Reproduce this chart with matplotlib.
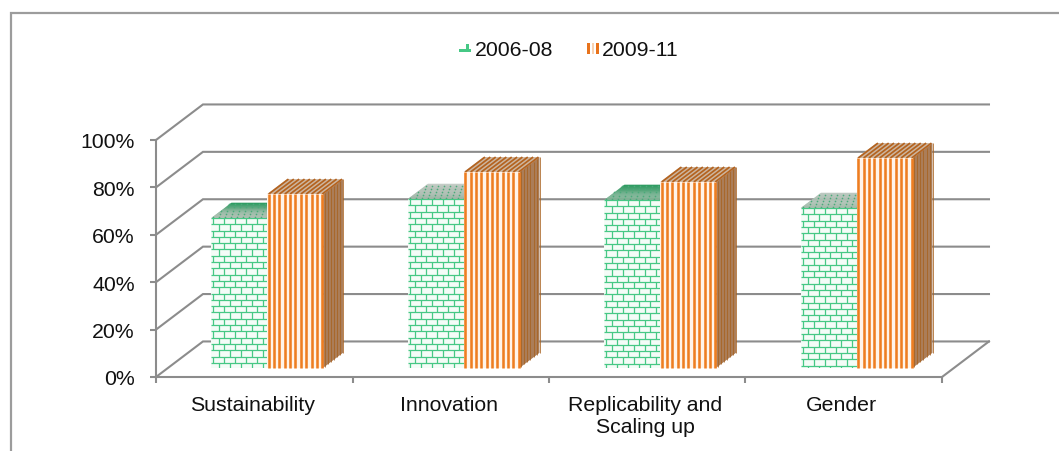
import numpy as np
import matplotlib
matplotlib.use('Agg')
import matplotlib.pyplot as plt
from matplotlib.collections import LineCollection
from matplotlib.colors import to_rgb
from matplotlib.lines import Line2D
from matplotlib.patches import Polygon, Rectangle
from matplotlib.ticker import PercentFormatter

plt.rcParams['font.family'] = ['Liberation Sans', 'DejaVu Sans']
plt.rcParams['font.size'] = 15.3

categories = ['Sustainability', 'Innovation', 'Replicability and\nScaling up', 'Gender']
series_names = ['2006-08', '2009-11']
values_0608 = [63.2, 71.2, 70.8, 67.4]
values_0911 = [73.3, 82.6, 78.4, 88.5]
y_ticks = [0, 20, 40, 60, 80, 100]

# how the green tops shade from front to back
top_front = ['#a9bcae', '#9fb5a6', '#7fb295', '#a3bcac']
top_back = ['#2f9c62', '#c4ccc6', '#2f9c62', '#bcc8c0']

GREY = '#8c8c8c'
GREEN = '#46c885'
ORANGE = '#ee7d20'
BROWN = '#ab7d58'
BROWN_DARK = '#a8621f'

# oblique projection: one unit of depth moves this far in data units
DEPTH_X = 0.239
DEPTH_Y = 15.0
BAR_WIDTH = 0.285
GROUP_START = 0.219
BAR_D0 = 0.26
BAR_D1 = 0.68
PX = 1 / 196.5  # one pixel on the x scale
PY = 1 / 2.37   # one pixel on the y scale


def proj(x, y, d=0.0):
    return x + d * DEPTH_X, y + d * DEPTH_Y


def face(ax, pts, color, z):
    p = Polygon([proj(*q) for q in pts], closed=True, facecolor=color,
                edgecolor='none', clip_on=False, zorder=z)
    ax.add_patch(p)
    return p


def lines(ax, segs, color, lw, z, clip=None):
    lc = LineCollection([[proj(*a), proj(*b)] for a, b in segs], colors=color,
                        linewidths=lw, zorder=z, clip_on=clip is not None,
                        capstyle='butt')
    ax.add_collection(lc, autolim=False)
    if clip is not None:
        lc.set_clip_path(clip)
    return lc


def brick_front(ax, x0, v, z):
    rect = face(ax, [(x0, 0, BAR_D0), (x0 + BAR_WIDTH, 0, BAR_D0),
                     (x0 + BAR_WIDTH, v, BAR_D0), (x0, v, BAR_D0)], '#f4fcf7', z)
    row = 6.3 * PY
    brick = 11 * PX
    segs = []
    for k, yy in enumerate(np.arange(v, 0, -row)):
        segs.append(((x0, yy, BAR_D0), (x0 + BAR_WIDTH, yy, BAR_D0)))
        start = x0 + (brick / 2 if k % 2 else 0) + 2 * PX
        for xx in np.arange(start, x0 + BAR_WIDTH, brick):
            segs.append(((xx, yy, BAR_D0), (xx, yy - row, BAR_D0)))
    lines(ax, segs, GREEN, 0.9, z + 0.1, clip=rect)


def green_top(ax, x0, v, c_front, c_back, z):
    n = 14
    c0, c1 = np.array(to_rgb(c_front)), np.array(to_rgb(c_back))
    ds = np.linspace(BAR_D0, BAR_D1, n + 1)
    for k in range(n):
        col = c0 + (c1 - c0) * (k / (n - 1)) ** 1.5
        face(ax, [(x0, v, ds[k]), (x0 + BAR_WIDTH, v, ds[k]),
                  (x0 + BAR_WIDTH, v, ds[k + 1] + 0.01), (x0, v, ds[k + 1] + 0.01)], col, z)
    # speckle of the dotted fill
    xs, ys = [], []
    for j, d in enumerate(np.arange(BAR_D0 + 0.04, BAR_D1, 0.085)):
        for xx in np.arange(x0 + (j % 2) * 3 * PX, x0 + BAR_WIDTH, 6 * PX):
            px, py = proj(xx, v, d)
            xs.append(px)
            ys.append(py)
    ax.scatter(xs, ys, s=1.4, color='#4aab7a', linewidths=0, clip_on=False, zorder=z + 0.1)


def striped_bar(ax, x0, v, z):
    x1 = x0 + BAR_WIDTH
    # side face
    face(ax, [(x1, 0, BAR_D0), (x1, 0, BAR_D1), (x1, v, BAR_D1), (x1, v, BAR_D0)], BROWN, z)
    ds = np.arange(BAR_D0 + 0.03, BAR_D1 + 0.01, 3.1 * PX / DEPTH_X)
    lines(ax, [((x1, 0, d), (x1, v, d)) for d in ds], BROWN_DARK, 0.55, z + 0.1)
    # top face
    face(ax, [(x0, v, BAR_D0), (x1, v, BAR_D0), (x1, v, BAR_D1), (x0, v, BAR_D1)], '#cdb6a0', z)
    xs = np.arange(x0 + 1.5 * PX, x1, 5.35 * PX)
    lines(ax, [((xx, v, BAR_D0), (xx, v, BAR_D1)) for xx in xs], '#b4631f', 1.25, z + 0.1)
    # front face
    face(ax, [(x0, 0, BAR_D0), (x1, 0, BAR_D0), (x1, v, BAR_D0), (x0, v, BAR_D0)], '#fff4ea', z + 0.2)
    lines(ax, [((xx, 0, BAR_D0), (xx, v, BAR_D0)) for xx in xs], ORANGE, 1.85, z + 0.3)


fig = plt.figure(figsize=(10.59, 4.52), dpi=100, facecolor='white')
W, H = 1059, 452
ax = fig.add_axes([156 / W, 1 - 378 / H, 786 / W, 237 / H])
ax.set_xlim(0, 4)
ax.set_ylim(0, 100)
ax.patch.set_visible(False)

ax.spines[['top', 'right']].set_visible(False)
ax.spines[['left', 'bottom']].set_color(GREY)
ax.spines[['left', 'bottom']].set_linewidth(1.5)
ax.set_yticks(y_ticks)
ax.yaxis.set_major_formatter(PercentFormatter(100, decimals=0))
ax.set_xticks(np.arange(5))
ax.set_xticklabels([])
ax.set_xticks(np.arange(4) + 0.49, categories, minor=True)
ax.tick_params(axis='both', which='major', color=GREY, width=1.5, length=4.2)
ax.tick_params(axis='y', pad=11, labelcolor='#111111')
ax.tick_params(axis='x', which='minor', length=0, pad=13, labelcolor='#111111')
for lab in ax.get_xticklabels(minor=True):
    lab.set_linespacing(1.2)

# side wall, back wall and floor gridlines
for t in y_ticks:
    wall = [proj(0, t, 0), proj(0, t, 1), proj(4, t, 1)]
    ax.plot(*zip(*wall), color=GREY, lw=1.5, clip_on=False, zorder=1,
            solid_joinstyle='miter')
ax.plot(*zip(proj(4, 0, 0), proj(4, 0, 1)), color=GREY, lw=1.5, clip_on=False, zorder=1)

for i in range(len(categories)):
    x_green = i + GROUP_START
    x_orange = x_green + BAR_WIDTH
    z = 3 + i
    green_top(ax, x_green, values_0608[i], top_front[i], top_back[i], z)
    brick_front(ax, x_green, values_0608[i], z + 0.2)
    striped_bar(ax, x_orange, values_0911[i], z + 0.4)

# outer frame, open towards the lower right
fig.add_artist(Line2D([10.5 / W, 10.5 / W, 1], [0, 1 - 13.5 / H, 1 - 13.5 / H],
                      color='#9c9c9c', lw=1.6, solid_joinstyle='miter'))

# legend
fig.text(475 / W, 1 - 51 / H, series_names[0], va='center', ha='left', color='#111111')
fig.text(602 / W, 1 - 51 / H, series_names[1], va='center', ha='left', color='#111111')


def swatch(x, y, w, h, color):
    fig.add_artist(Rectangle((x / W, 1 - (y + h) / H), w / W, h / H, facecolor=color,
                             edgecolor='none', transform=fig.transFigure))


swatch(459, 50, 12, 3, GREEN)
swatch(466, 45, 2.5, 5, GREEN)
swatch(587, 44, 3, 11, '#e8731c')
swatch(592, 44, 2, 11, '#f8d3b4')
swatch(595.5, 44, 3, 11, '#e8731c')

fig.savefig('out.png', dpi=100, facecolor='white')
